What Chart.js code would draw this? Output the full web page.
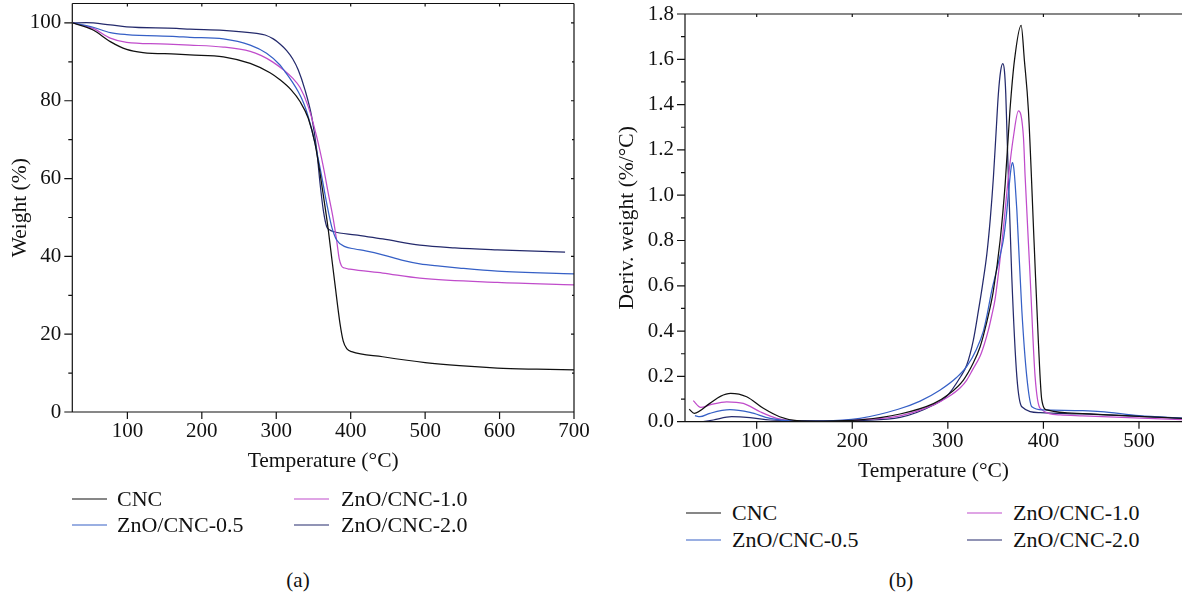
<!DOCTYPE html>
<html>
<head>
<meta charset="utf-8">
<script src="https://cdn.jsdelivr.net/npm/chart.js@4.4.1/dist/chart.umd.min.js"></script>
<style>
  html, body { margin: 0; padding: 0; background: #fff; }
  body { width: 1182px; height: 597px; overflow: hidden; position: relative;
         font-family: "Liberation Serif", "Times New Roman", serif; color: #111; }
  canvas { position: absolute; top: 0; }
  #tga { left: 0; }
  #dtg { left: 600px; }
  .lg { position: absolute; font-size: 22px; line-height: 24px; white-space: nowrap; transform: translateY(-50%); }
  .sw { position: absolute; height: 0; border-top: 1.6px solid; transform: translateY(-50%); }
  .cap { position: absolute; font-size: 21px; transform: translate(-50%, -50%); }
</style>
</head>
<body>
<canvas id="tga" width="600" height="490"></canvas>
<canvas id="dtg" width="582" height="500"></canvas>
<div class="cap" style="left:298px; top:580px;">(a)</div>
<div class="cap" style="left:901px; top:580px;">(b)</div>
<script>
  const SERIES = ["CNC", "ZnO/CNC-0.5", "ZnO/CNC-1.0", "ZnO/CNC-2.0"];
  const COLORS = ["#111111", "#3660c6", "#c04ccb", "#242a6c"];

  // weight loss, [temperature °C, weight %]
  const tgaCNC = [[27,100],[54,98.2],[77,95.2],[99,93.2],[121,92.4],[166,92.0],[184,91.8],[229,91.3],[265,89.6],
    [291.6,87.2],[305,85.4],[320,82.8],[331.9,79.8],[343,75.5],[352,69.1],[358.8,61.4],[365.5,52.8],[369.9,46.8],
    [374.5,39.6],[378.9,32.8],[385.6,22.8],[390,18.2],[395,16.2],[401.3,15.5],[443,14.2],[500,12.7],[546,11.9],
    [597,11.3],[650,11.0],[700,10.8]];
  const tgaZ05 = [[27,100],[54,98.9],[77,97.5],[99,97.0],[166,96.5],[184,96.3],[229,95.9],[265,94.3],[287,92.2],
    [305,89.2],[311.7,87.5],[321,85.0],[329.6,82.3],[337,79.3],[343,75.9],[352,69.1],[361.1,60.5],[367.8,53.6],
    [374.5,47.6],[381.2,44.2],[392.3,42.5],[405.8,41.9],[420,41.4],[443,40.4],[470,39.0],[493,38.1],[520,37.5],
    [546,37.0],[597,36.2],[700,35.5]];
  const tgaZ10 = [[27,100],[54,98.6],[77,96.1],[99,95.0],[144,94.6],[184,94.3],[229,93.8],[265,92.7],[280,91.6],
    [295,90.0],[310,87.9],[322,85.8],[332,83.4],[343,78.5],[354.3,70.8],[363.2,63.1],[369.9,56.2],[376.6,49.6],
    [381.2,44.0],[384.5,39.5],[387.5,37.6],[392,37.0],[399,36.7],[443,35.7],[493,34.4],[597,33.3],[700,32.7]];
  const tgaZ20 = [[27,100],[45,100.1],[77,99.5],[99,99.0],[166,98.6],[184,98.4],[229,98.1],[273.7,97.3],[285,96.9],
    [296,95.9],[305,94.6],[314,92.9],[322,90.8],[329.6,87.9],[338.6,82.8],[347.6,75.9],[354.3,67.4],[358.8,58.8],
    [363.2,51.9],[367.8,47.6],[372,46.8],[376.6,46.4],[405.8,45.5],[443,44.5],[493,42.9],[540,42.2],[597,41.7],
    [688,41.1]];

  // derivative weight, [temperature °C, %/°C]
  const dtgCNC = [[29.4,0.055],[34.7,0.037],[51,0.081],[62,0.112],[72.8,0.125],[89.5,0.110],[107,0.059],
    [124,0.022],[142,0.005],[170,0.003],[208,0.008],[250,0.034],[285,0.08],[300.6,0.12],[316.3,0.184],
    [326.7,0.26],[333.7,0.33],[337.2,0.38],[343.5,0.49],[347.7,0.58],[354.7,0.80],[360,1.05],[365,1.375],
    [369.7,1.595],[376.7,1.750],[380.1,1.595],[384.3,1.375],[390.3,0.787],[394.8,0.346],[398.3,0.096],
    [403.6,0.052],[441,0.036],[500,0.024],[545,0.015]];
  const dtgZ05 = [[35.4,0.027],[40.6,0.022],[51,0.037],[72,0.053],[93,0.041],[114,0.015],[138,0.004],
    [170,0.004],[208,0.015],[248,0.055],[271,0.091],[292,0.14],[309.4,0.196],[320,0.245],[330,0.32],
    [337.2,0.40],[341,0.47],[346,0.58],[350,0.65],[355,0.74],[358,0.80],[361,0.90],[364.4,1.052],
    [366.2,1.12],[367.6,1.144],[369,1.12],[370.4,1.052],[372.2,0.934],[377.4,0.493],[382.6,0.199],
    [387.9,0.066],[400,0.052],[441,0.049],[460,0.045],[500,0.027],[545,0.016]];
  const dtgZ10 = [[33.6,0.093],[41.4,0.063],[51,0.074],[68.6,0.088],[86,0.081],[103.5,0.044],[121,0.015],
    [138,0.005],[170,0.003],[208,0.009],[250,0.026],[285,0.074],[300.6,0.11],[313,0.15],[319.8,0.184],
    [326,0.23],[333.8,0.29],[338,0.34],[342.4,0.404],[346,0.47],[349.4,0.54],[356.5,0.787],[363.4,1.08],
    [368.6,1.257],[373.9,1.372],[379.1,1.257],[380.9,1.08],[386.1,0.64],[391.3,0.199],[396.6,0.059],
    [417.5,0.030],[441,0.026],[545,0.009]];
  const dtgZ20 = [[44,0.0],[54.6,0.0075],[73.8,0.022],[93,0.018],[114,0.0075],[140,0.003],[170,0.002],
    [208,0.006],[250,0.019],[285,0.074],[299,0.113],[312.8,0.195],[319.8,0.25],[326.7,0.36],[332,0.49],
    [336.5,0.61],[340.8,0.74],[344.5,0.90],[347.7,1.08],[350.5,1.28],[352.9,1.449],[355.3,1.55],
    [357.5,1.581],[359.2,1.55],[360.6,1.449],[361.7,1.30],[366.9,0.64],[372.2,0.199],[377.4,0.066],
    [396.6,0.04],[441,0.034],[500,0.024],[545,0.015]];

  const xTicksA = [100, 200, 300, 400, 500, 600, 700];
  const yTicksA = [0, 20, 40, 60, 80, 100];
  const yMinorA = [10, 30, 50, 70, 90];
  const xTicksB = [100, 200, 300, 400, 500];
  const yTicksB = [0, 0.2, 0.4, 0.6, 0.8, 1.0, 1.2, 1.4, 1.6, 1.8];
  const yMinorB = [0.1, 0.3, 0.5, 0.7, 0.9, 1.1, 1.3, 1.5, 1.7];

  const FONT = "'Liberation Serif', 'Times New Roman', serif";

  // box frame plus tick marks (outward on left/bottom, short inward on top/right)
  const frameTicks = {
    id: "frameTicks",
    afterDatasetsDraw(chart, args, o) {
      const { ctx, chartArea: a, scales: { x, y } } = chart;
      ctx.save();
      ctx.strokeStyle = "#111";
      ctx.lineWidth = 1.2;
      ctx.beginPath();
      ctx.moveTo(a.left, a.top); ctx.lineTo(a.left, a.bottom); ctx.lineTo(a.right, a.bottom);
      ctx.moveTo(a.left, a.top); ctx.lineTo(a.right, a.top);
      if (o.right) { ctx.moveTo(a.right, a.top); ctx.lineTo(a.right, a.bottom); }
      o.xMajor.forEach((v) => {
        const px = x.getPixelForValue(v);
        ctx.moveTo(px, a.bottom); ctx.lineTo(px, a.bottom + 7);
        ctx.moveTo(px, a.top); ctx.lineTo(px, a.top + 3);
      });
      o.yMajor.forEach((v) => {
        const py = y.getPixelForValue(v);
        ctx.moveTo(a.left - 8, py); ctx.lineTo(a.left, py);
        if (o.right) { ctx.moveTo(a.right, py); ctx.lineTo(a.right - 3, py); }
      });
      o.yMinor.forEach((v) => {
        const py = y.getPixelForValue(v);
        ctx.moveTo(a.left - 4, py); ctx.lineTo(a.left, py);
        if (o.right) { ctx.moveTo(a.right, py); ctx.lineTo(a.right - 2, py); }
      });
      ctx.stroke();
      ctx.restore();
    },
  };

  function makeSets(list) {
    return list.map((pts, i) => ({
      label: SERIES[i],
      data: pts.map(([x, y]) => ({ x, y })),
      borderColor: COLORS[i],
      borderWidth: 1.25,
      pointRadius: 0,
      fill: false,
      cubicInterpolationMode: "monotone",
    }));
  }

  function build(id, cfg) {
    const fixTicks = (vals) => (s) => { s.ticks = vals.map((v) => ({ value: v })); };
    return new Chart(document.getElementById(id), {
      type: "line",
      data: { datasets: makeSets(cfg.sets) },
      options: {
        responsive: false,
        animation: false,
        devicePixelRatio: 1,
        layout: { padding: cfg.pad },
        plugins: { legend: { display: false }, tooltip: { enabled: false },
                   frameTicks: { right: cfg.right, xMajor: cfg.xTicks, yMajor: cfg.yTicks, yMinor: cfg.yMinor } },
        scales: {
          x: {
            type: "linear", min: cfg.xMin, max: cfg.xMax,
            grid: { display: false, drawTicks: false }, border: { display: false },
            afterBuildTicks: fixTicks(cfg.xTicks),
            afterFit: (s) => { s.height = cfg.xH; s.paddingLeft = s.paddingRight = 0; },
            ticks: { autoSkip: false, maxRotation: 0, padding: cfg.xPad, color: "#111", font: { family: FONT, size: 21 } },
            title: { display: true, text: "Temperature (°C)", color: "#111", padding: 0, font: { family: FONT, size: 21.5 } },
          },
          y: {
            min: cfg.yMin, max: cfg.yMax,
            grid: { display: false, drawTicks: false }, border: { display: false },
            afterBuildTicks: fixTicks(cfg.yTicks),
            afterFit: (s) => { s.width = cfg.yW; s.paddingTop = s.paddingBottom = 0; },
            ticks: { autoSkip: false, padding: 11, color: "#111", font: { family: FONT, size: 21 },
                     callback: cfg.fmt },
            title: { display: true, text: cfg.yTitle, color: "#111", padding: { top: cfg.yTitlePad, bottom: 0 },
                     font: { family: FONT, size: 21.5 } },
          },
        },
      },
      plugins: [frameTicks],
    });
  }

  build("tga", {
    sets: [tgaCNC, tgaZ05, tgaZ10, tgaZ20],
    xMin: 26, xMax: 700, yMin: 0, yMax: 105,
    xTicks: xTicksA, yTicks: yTicksA, yMinor: yMinorA, right: true,
    pad: { top: 3.5, right: 26, bottom: 15.4, left: 0 },
    xH: 62.6, xPad: 6.4, yW: 72.3, yTitle: "Weight (%)", yTitlePad: 7,
    fmt: (v) => String(v),
  });

  build("dtg", {
    sets: [dtgCNC, dtgZ05, dtgZ10, dtgZ20],
    xMin: 25, xMax: 545, yMin: 0, yMax: 1.8,
    xTicks: xTicksB, yTicks: yTicksB, yMinor: yMinorB, right: false,
    pad: { top: 14, right: 0, bottom: 15.4, left: 0 },
    xH: 62.9, xPad: 6.7, yW: 85, yTitle: "Deriv. weight (%/°C)", yTitlePad: 14,
    fmt: (v) => v.toFixed(1),
  });

  // legends: two columns, two rows, under each panel
  function legend(cols, rows, order) {
    order.forEach((idx, k) => {
      const c = cols[Math.floor(k / 2)], yy = rows[k % 2];
      const sw = document.createElement("div");
      sw.className = "sw";
      sw.style.cssText = `left:${c[0]}px; width:${c[1] - c[0]}px; top:${yy}px; border-color:${COLORS[idx]};`;
      const tx = document.createElement("div");
      tx.className = "lg";
      tx.style.cssText = `left:${c[2]}px; top:${yy}px;`;
      tx.textContent = SERIES[idx];
      document.body.append(sw, tx);
    });
  }
  legend([[72, 107, 117], [294, 329, 341]], [499, 525], [0, 1, 2, 3]);
  legend([[686, 721, 732], [967, 1002, 1013]], [513, 540], [0, 1, 2, 3]);
</script>
</body>
</html>
